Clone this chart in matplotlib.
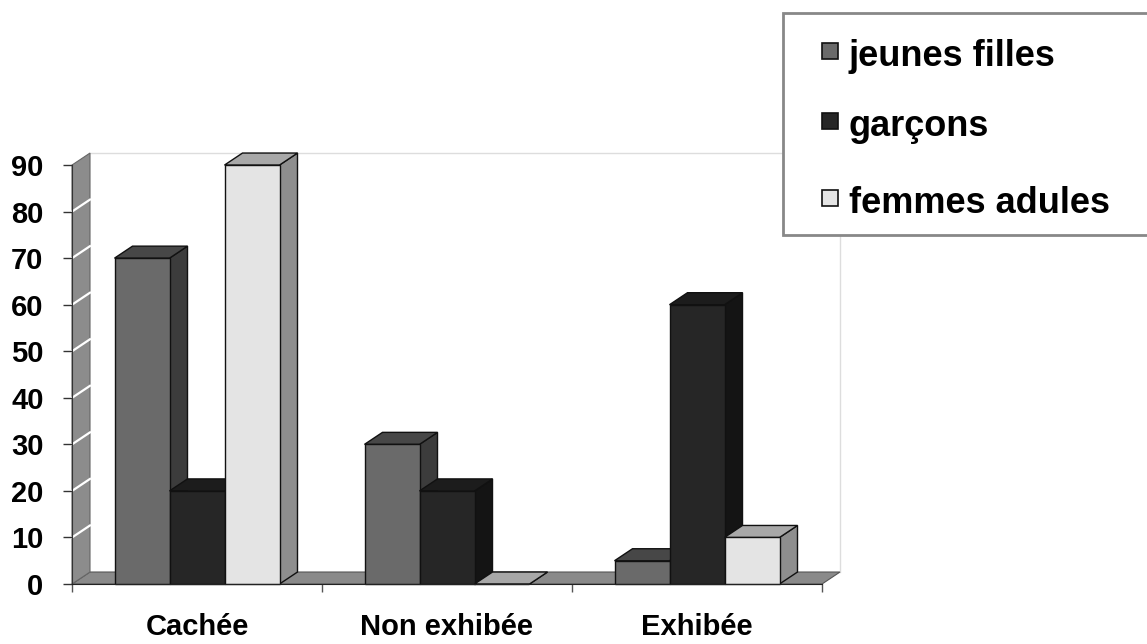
import matplotlib.pyplot as plt
from matplotlib.patches import Polygon, Rectangle

# ====== Data ======
categories = ["Cachée", "Non exhibée", "Exhibée"]
series_names = ["jeunes filles", "garçons", "femmes adules"]
jeunes_filles = [70, 30, 5]
garcons = [20, 20, 60]
femmes_adules = [90, 0, 10]
y_ticks = [0, 10, 20, 30, 40, 50, 60, 70, 80, 90]

series_values = [jeunes_filles, garcons, femmes_adules]

# face shades for each series: front, top, side
front_colors = ["#6a6a6a", "#262626", "#e4e4e4"]
top_colors = ["#474747", "#1c1c1c", "#a8a8a8"]
side_colors = ["#3c3c3c", "#141414", "#8e8e8e"]

plt.rcParams["font.family"] = ["Liberation Sans", "DejaVu Sans"]
plt.rcParams["font.weight"] = "bold"

fig = plt.figure(figsize=(11.47, 6.44), dpi=100)
ax = fig.add_axes([47 / 1147, 36.7 / 644, 825 / 1147, 488.8 / 644])
ax.set_facecolor("none")
ax.set_xlim(-0.1, 3.2)
ax.set_ylim(-5, 100)

# fake 3D depth (in data units)
DX = 0.072
DY = 2.58
BAR_W = 0.22
n_cat = len(categories)
y_top = max(y_ticks)

# floor and side wall
ax.add_patch(Polygon([(0, 0), (n_cat, 0), (n_cat + DX, DY), (DX, DY)],
                     closed=True, facecolor="#8a8a8a", edgecolor="#555555",
                     lw=0.8, zorder=1))
ax.add_patch(Polygon([(0, 0), (0, y_top), (DX, y_top + DY), (DX, DY)],
                     closed=True, facecolor="#8c8c8c", edgecolor="#666666",
                     lw=0.8, zorder=1))
for v in y_ticks[1:-1]:
    ax.plot([0, DX], [v, v + DY], color="white", lw=1.6, zorder=1.2)

# back wall outline
ax.plot([DX, n_cat + DX], [y_top + DY, y_top + DY], color="#dddddd", lw=1, zorder=0.5)
ax.plot([n_cat + DX, n_cat + DX], [DY, y_top + DY], color="#dddddd", lw=1, zorder=0.5)

# bars, drawn left to right so each front hides the previous side
z = 2
for ci in range(n_cat):
    center = ci + 0.5
    for si, vals in enumerate(series_values):
        v = vals[ci]
        x0 = center + (si - 1) * BAR_W - BAR_W / 2
        x1 = x0 + BAR_W
        ax.add_patch(Polygon([(x1, 0), (x1 + DX, DY), (x1 + DX, v + DY), (x1, v)],
                             closed=True, facecolor=side_colors[si],
                             edgecolor="#111111", lw=1, zorder=z))
        ax.add_patch(Polygon([(x0, v), (x1, v), (x1 + DX, v + DY), (x0 + DX, v + DY)],
                             closed=True, facecolor=top_colors[si],
                             edgecolor="#111111", lw=1, zorder=z))
        ax.bar(x0, v, width=BAR_W, align="edge", bottom=0,
               color=front_colors[si], edgecolor="#111111", lw=1, zorder=z + 0.5)
        z += 1

# axes
for s in ("top", "right"):
    ax.spines[s].set_visible(False)
ax.spines["left"].set_position(("data", 0))
ax.spines["left"].set_bounds(0, y_top)
ax.spines["bottom"].set_position(("data", 0))
ax.spines["bottom"].set_bounds(0, n_cat)
ax.spines["left"].set_color("#333333")
ax.spines["bottom"].set_color("#222222")
ax.spines["left"].set_zorder(50)
ax.spines["bottom"].set_zorder(50)

ax.set_yticks(y_ticks)
ax.set_yticklabels([str(t) for t in y_ticks], fontsize=21, fontweight="bold")
ax.tick_params(axis="y", direction="out", length=6.5, width=1, pad=14, color="#333333")

ax.set_xticks(range(n_cat + 1))
ax.set_xticklabels([""] * (n_cat + 1))
ax.set_xticks([i + 0.5 for i in range(n_cat)], minor=True)
ax.set_xticklabels(categories, minor=True, fontsize=21, fontweight="bold", va="top")
ax.tick_params(axis="x", which="major", direction="out", length=6, width=1, color="#555555")
ax.tick_params(axis="x", which="minor", length=0, pad=21)

# legend box
W, H = 1147, 644
fig.patches.append(Rectangle((783 / W, (H - 235) / H), (1170 - 783) / W, (235 - 13) / H,
                             transform=fig.transFigure, facecolor="white",
                             edgecolor="#888888", lw=2, zorder=0))
baselines = [66, 136, 213]
for si, name in enumerate(series_names):
    cy = baselines[si] - 15
    fig.patches.append(Rectangle((822 / W, (H - cy - 8) / H), 16 / W, 16 / H,
                                 transform=fig.transFigure, facecolor=front_colors[si],
                                 edgecolor="#111111", lw=1.2, zorder=1))
    fig.text(849 / W, (H - baselines[si]) / H, name, fontsize=26, fontweight="bold",
             va="baseline", ha="left")

fig.savefig("out.png", dpi=100)
